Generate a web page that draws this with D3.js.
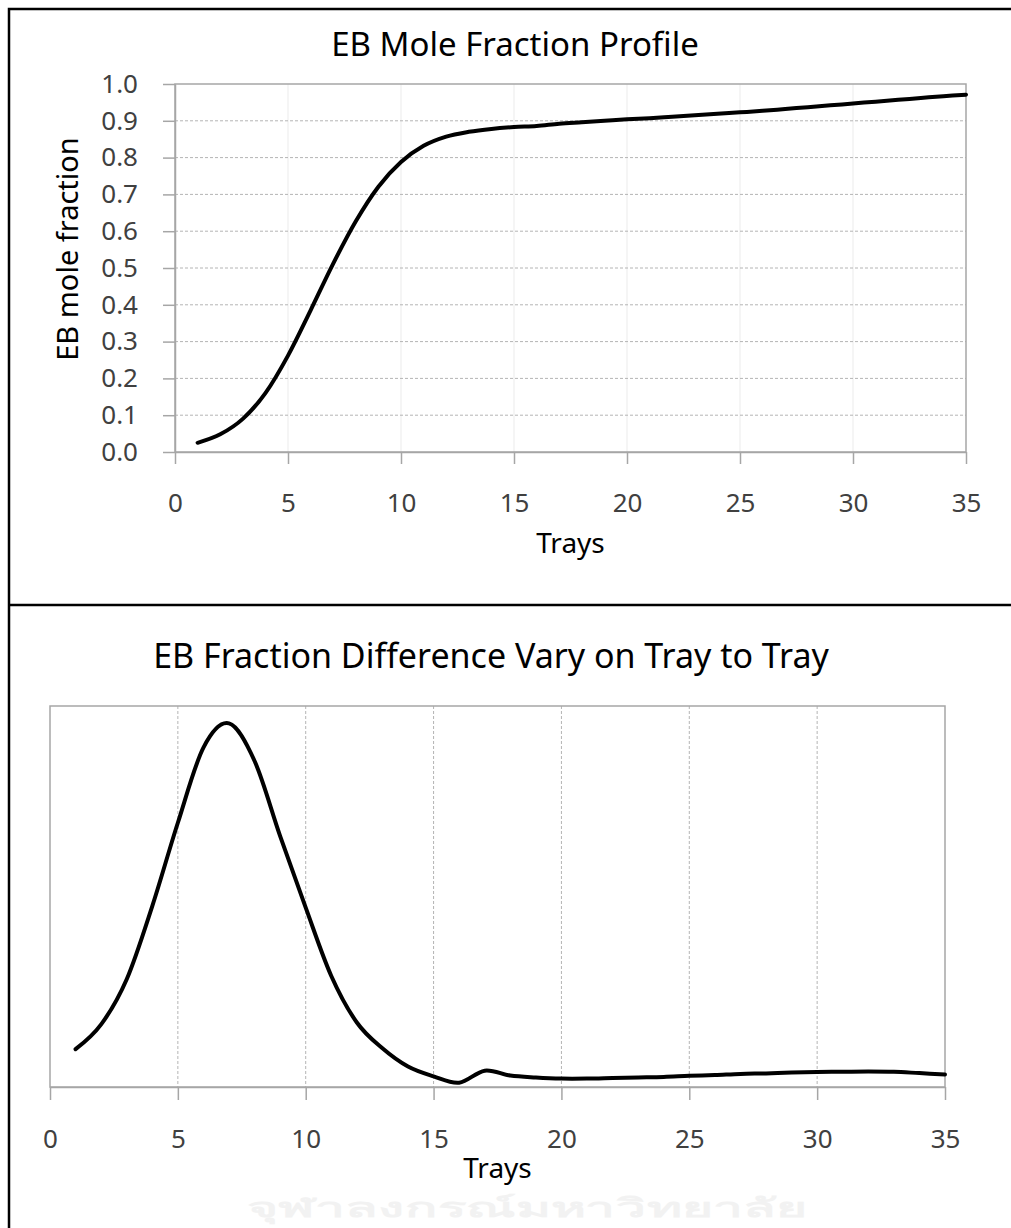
<!DOCTYPE html>
<meta charset="utf-8">
<style>
body { margin: 0; background: #fff; }
text { font-family: "Noto Sans", "Open Sans", sans-serif; }
.tick text { fill: #404040; font-size: 26px; }
.domain, .tick line { stroke: #a6a6a6; stroke-width: 1.5px; }
.hgrid line { stroke: #b4b4b4; stroke-dasharray: 3,2; }
.vgrid-light line { stroke: #ebebeb; }
.vgrid-dash line { stroke: #b4b4b4; stroke-dasharray: 3,2; }
.frame { stroke: #a6a6a6; stroke-width: 1.5px; fill: none; }
.curve { fill: none; stroke: #000; stroke-width: 4px; stroke-linecap: round; }
.title { fill: #000; }
.axis-label { fill: #000; font-size: 28px; }
</style>
<body>
<script src="https://cdn.jsdelivr.net/npm/d3@7"></script>
<script>

// trays 1..35
var trays = [1, 2, 3, 4, 5, 6, 7, 8, 9, 10, 11, 12, 13, 14, 15, 16, 17, 18,
             19, 20, 21, 22, 23, 24, 25, 26, 27, 28, 29, 30, 31, 32, 33, 34, 35];

// EB mole fraction per tray (top chart)
var moleFraction = [0.025, 0.048, 0.090, 0.160, 0.262, 0.385, 0.512, 0.627, 0.721, 0.788,
                    0.832, 0.857, 0.870, 0.878, 0.883, 0.886, 0.892, 0.896, 0.900, 0.904,
                    0.907, 0.911, 0.915, 0.919, 0.923, 0.927, 0.932, 0.937, 0.942, 0.947,
                    0.952, 0.957, 0.962, 0.967, 0.971];

// fraction difference tray to tray (bottom chart, axis 0..0.14 unlabeled)
var fractionDiff = [0.0139, 0.0230, 0.0396, 0.0665, 0.0971, 0.1247, 0.1336, 0.1198, 0.0922, 0.0659,
                    0.0408, 0.0237, 0.0142, 0.0075, 0.0039, 0.0016, 0.0060, 0.0042, 0.0035, 0.0031,
                    0.0031, 0.0033, 0.0035, 0.0037, 0.0041, 0.0044, 0.0048, 0.0050, 0.0053, 0.0055,
                    0.0056, 0.0057, 0.0056, 0.0051, 0.0046];

var xTicks = [0, 5, 10, 15, 20, 25, 30, 35];
var yTicks = [0, 0.1, 0.2, 0.3, 0.4, 0.5, 0.6, 0.7, 0.8, 0.9, 1.0];

var width = 1011, height = 1228;

var svg = d3.select("body").append("svg")
    .attr("width", width)
    .attr("height", height);

// outer frame (cropped on right and bottom)
svg.append("rect")
    .attr("x", 9).attr("y", 9)
    .attr("width", 1020).attr("height", 1240)
    .attr("fill", "none").attr("stroke", "#000").attr("stroke-width", 2.5);
svg.append("line")
    .attr("x1", 9).attr("x2", 1011)
    .attr("y1", 605).attr("y2", 605)
    .attr("stroke", "#000").attr("stroke-width", 2.5);

// ---------- top chart ----------
var p1 = { left: 175, right: 966, top: 84, bottom: 452 };

var x1 = d3.scaleLinear().domain([0, 35]).range([p1.left, p1.right]);
var y1 = d3.scaleLinear().domain([0, 1]).range([p1.bottom, p1.top]);

var topG = svg.append("g");

topG.append("g")
    .attr("class", "vgrid-light")
    .selectAll("line")
    .data(xTicks.slice(1, -1))
    .enter().append("line")
    .attr("x1", function(d) { return x1(d); })
    .attr("x2", function(d) { return x1(d); })
    .attr("y1", p1.top).attr("y2", p1.bottom);

topG.append("g")
    .attr("class", "hgrid")
    .selectAll("line")
    .data(yTicks.slice(1, -1))
    .enter().append("line")
    .attr("x1", p1.left).attr("x2", p1.right)
    .attr("y1", function(d) { return y1(d); })
    .attr("y2", function(d) { return y1(d); });

topG.append("rect")
    .attr("class", "frame")
    .attr("x", p1.left).attr("y", p1.top)
    .attr("width", p1.right - p1.left)
    .attr("height", p1.bottom - p1.top);

topG.append("g")
    .attr("transform", "translate(0," + p1.bottom + ")")
    .call(d3.axisBottom(x1).tickValues(xTicks).tickSize(12).tickSizeOuter(0).tickPadding(48))
    .call(function(g) { g.selectAll(".tick text").attr("dy", "0"); });

topG.append("g")
    .attr("transform", "translate(" + p1.left + ",0)")
    .call(d3.axisLeft(y1).tickValues(yTicks).tickFormat(d3.format(".1f"))
        .tickSize(12).tickSizeOuter(0).tickPadding(25));

topG.append("path")
    .datum(trays)
    .attr("class", "curve")
    .attr("d", d3.line()
        .x(function(d) { return x1(d); })
        .y(function(d, i) { return y1(moleFraction[i]); })
        .curve(d3.curveCatmullRom.alpha(0)));

topG.append("text")
    .attr("class", "title")
    .attr("x", 515).attr("y", 56)
    .attr("text-anchor", "middle")
    .style("font-size", "33px")
    .text("EB Mole Fraction Profile");

topG.append("text")
    .attr("class", "axis-label")
    .attr("x", (p1.left + p1.right) / 2).attr("y", 553)
    .attr("text-anchor", "middle")
    .text("Trays");

topG.append("text")
    .attr("class", "axis-label")
    .attr("transform", "translate(78,249) rotate(-90)")
    .attr("text-anchor", "middle")
    .style("font-size", "29px")
    .text("EB mole fraction");

// ---------- bottom chart ----------
var p2 = { left: 50, right: 945, top: 706, bottom: 1087 };

var x2 = d3.scaleLinear().domain([0, 35]).range([p2.left, p2.right]);
var y2 = d3.scaleLinear().domain([0, 0.14]).range([p2.bottom, p2.top]);

var botG = svg.append("g");

// faint watermark text, kept below the axis title
botG.append("text")
    .attr("x", 527).attr("y", 1217)
    .attr("text-anchor", "middle")
    .attr("fill", "#f2f2f2")
    .attr("textLength", 560)
    .attr("lengthAdjust", "spacingAndGlyphs")
    .style("font-size", "26px")
    .style("font-weight", "bold")
    .text("จุฬาลงกรณ์มหาวิทยาลัย");

botG.append("g")
    .attr("class", "vgrid-dash")
    .selectAll("line")
    .data(xTicks.slice(1, -1))
    .enter().append("line")
    .attr("x1", function(d) { return x2(d); })
    .attr("x2", function(d) { return x2(d); })
    .attr("y1", p2.top).attr("y2", p2.bottom);

botG.append("rect")
    .attr("class", "frame")
    .attr("x", p2.left).attr("y", p2.top)
    .attr("width", p2.right - p2.left)
    .attr("height", p2.bottom - p2.top);

botG.append("g")
    .attr("transform", "translate(0," + p2.bottom + ")")
    .call(d3.axisBottom(x2).tickValues(xTicks).tickSize(13).tickSizeOuter(0).tickPadding(48))
    .call(function(g) { g.selectAll(".tick text").attr("dy", "0"); });

botG.append("path")
    .datum(trays)
    .attr("class", "curve")
    .attr("d", d3.line()
        .x(function(d) { return x2(d); })
        .y(function(d, i) { return y2(fractionDiff[i]); })
        .curve(d3.curveCatmullRom.alpha(0)));

botG.append("text")
    .attr("class", "title")
    .attr("x", 491).attr("y", 668)
    .attr("text-anchor", "middle")
    .style("font-size", "34px")
    .text("EB Fraction Difference Vary on Tray to Tray");

botG.append("text")
    .attr("class", "axis-label")
    .attr("x", (p2.left + p2.right) / 2).attr("y", 1178)
    .attr("text-anchor", "middle")
    .text("Trays");

</script>
</body>
